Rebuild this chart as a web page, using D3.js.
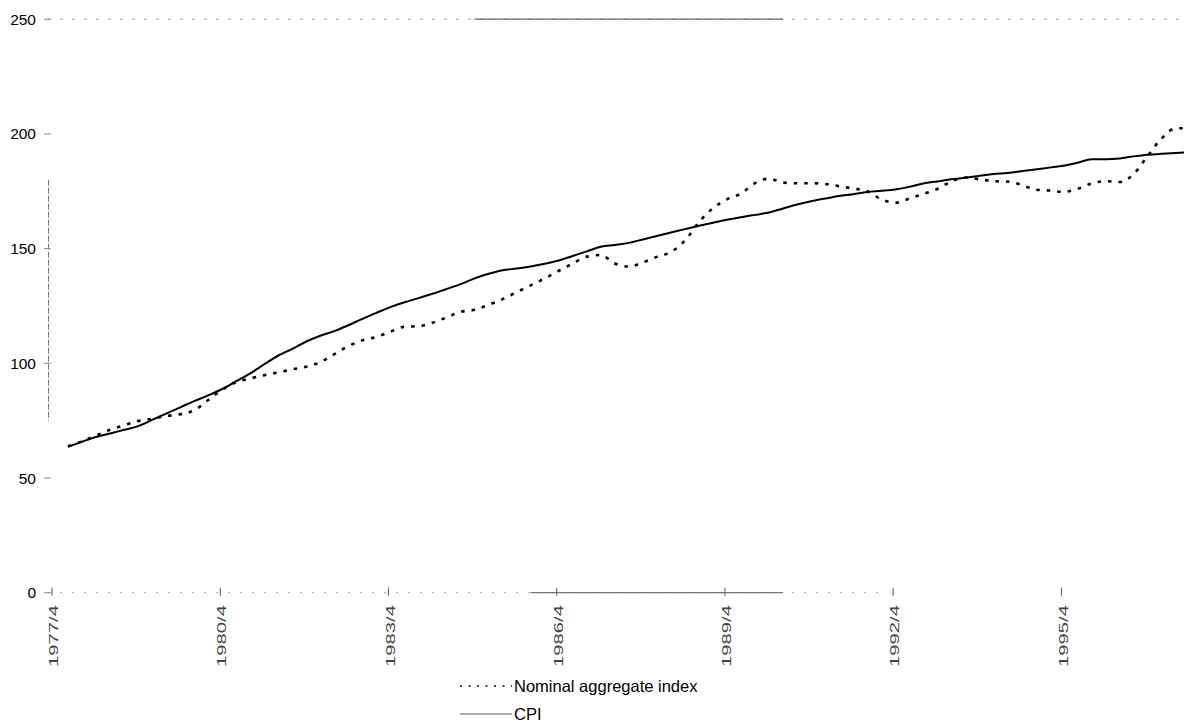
<!DOCTYPE html>
<html>
<head>
<meta charset="utf-8">
<script src="https://cdn.jsdelivr.net/npm/d3@7"></script>
<style>
  html, body { margin: 0; padding: 0; background: #fff; }
  svg { display: block; font-family: "Liberation Sans", Arial, sans-serif; }
</style>
</head>
<body>
<svg id="chart" width="1184" height="722"></svg>
<script>
// ---- data ----
// quarters from 1977/4 to 1998/1
const quarters = [];
for (let y = 1977, q = 4; y < 1998 || (y === 1998 && q <= 1); ) {
  quarters.push(y + "/" + q);
  q++; if (q > 4) { q = 1; y++; }
}
const tickLabels = ["1977/4", "1980/4", "1983/4", "1986/4", "1989/4", "1992/4", "1995/4"];
const yTicks = [0, 50, 100, 150, 200, 250];

const cpi = [null,
  63.6, 65.8, 67.9, 69.4, 71.0, 72.6, 75.3, 78.1, 80.8, 83.5, 86.0, 88.8,
  92.2, 95.6, 99.6, 103.4, 106.3, 109.5, 112.0, 114.0, 116.6, 119.4, 122.0, 124.5,
  126.6, 128.4, 130.3, 132.4, 134.5, 137.0, 139.0, 140.6, 141.3, 142.2, 143.4, 144.8,
  146.8, 148.8, 150.8, 151.6, 152.5, 154.0, 155.5, 157.0, 158.5, 160.0, 161.3, 162.6,
  163.7, 164.7, 165.7, 167.5, 169.2, 170.6, 171.8, 172.9, 173.7, 174.7, 175.2, 175.8,
  176.9, 178.4, 179.3, 180.2, 180.9, 181.7, 182.5, 183.0, 183.7, 184.5, 185.3, 186.1,
  187.4, 189.0, 189.0, 189.3, 190.2, 190.9, 191.3, 191.7, 192.0];

const nominal = [null,
  63.8, 66.0, 68.5, 71.0, 73.0, 74.8, 75.8, 77.0, 77.8, 79.5, 84.0, 88.5,
  91.8, 93.4, 94.8, 96.0, 97.4, 98.5, 100.5, 104.0, 107.5, 110.0, 111.5, 113.8,
  115.9, 116.2, 117.7, 120.0, 122.4, 123.3, 125.5, 128.0, 131.0, 134.0, 137.0, 140.3,
  143.5, 146.5, 147.2, 143.5, 142.2, 144.0, 146.4, 148.5, 153.5, 161.5, 167.6, 171.5,
  174.0, 178.5, 180.5, 178.8, 178.5, 178.5, 178.2, 177.2, 176.2, 175.0, 171.5, 170.0,
  171.8, 173.8, 176.0, 179.2, 181.0, 180.2, 179.4, 179.2, 177.8, 175.7, 175.3, 174.7,
  176.0, 178.4, 179.4, 179.0, 182.5, 190.3, 198.0, 202.4, 202.5];

const seriesNames = ["Nominal aggregate index", "CPI"];

// ---- chart ----
const svg = d3.select("#chart");
const W = 1184;

const x = d3.scalePoint().domain(quarters).range([54, 54 + 14.02 * (quarters.length - 1)]);
const y = d3.scaleLinear().domain([0, 250]).range([592.7, 19.2]);

const g = svg.append("g");

// faint frame lines (scanned look)
g.append("line")
  .attr("x1", 48).attr("x2", W).attr("y1", y(250)).attr("y2", y(250))
  .attr("stroke", "#999").attr("stroke-width", 1).attr("stroke-dasharray", "3,9");
g.append("line")
  .attr("x1", x("1985/2")).attr("x2", x("1990/4")).attr("y1", y(250)).attr("y2", y(250))
  .attr("stroke", "#666").attr("stroke-width", 1.2);
g.append("line")
  .attr("x1", 48).attr("x2", x("1992/3")).attr("y1", y(0)).attr("y2", y(0))
  .attr("stroke", "#aaa").attr("stroke-width", 1).attr("stroke-dasharray", "2,10");
g.append("line")
  .attr("x1", x("1986/2")).attr("x2", x("1990/4")).attr("y1", y(0)).attr("y2", y(0))
  .attr("stroke", "#777").attr("stroke-width", 1.2);
// y axis fragment
g.append("line")
  .attr("x1", 48.5).attr("x2", 48.5).attr("y1", y(180)).attr("y2", y(75))
  .attr("stroke", "#777").attr("stroke-width", 1).attr("stroke-dasharray", "6,2");

// y axis ticks & labels
const yAxis = g.append("g");
yAxis.selectAll("line").data(yTicks).join("line")
  .attr("x1", 44).attr("x2", 51).attr("y1", d => y(d)).attr("y2", d => y(d))
  .attr("stroke", "#888").attr("stroke-width", 1);
yAxis.selectAll("text").data(yTicks).join("text")
  .attr("x", 36).attr("y", d => y(d))
  .attr("text-anchor", "end").attr("dominant-baseline", "central")
  .attr("font-size", 15.5).attr("fill", "#000")
  .text(d => d);

// x ticks & labels
const xAxis = g.append("g");
xAxis.selectAll("line").data(tickLabels).join("line")
  .attr("x1", d => x(d) - 2).attr("x2", d => x(d) - 2)
  .attr("y1", y(0) - 5).attr("y2", y(0) + 3)
  .attr("stroke", "#555").attr("stroke-width", 1);
xAxis.selectAll("text").data(tickLabels).join("text")
  .attr("transform", d => `translate(${x(d)},605) rotate(-90) scale(1.62,1)`)
  .attr("text-anchor", "end").attr("dominant-baseline", "central")
  .attr("font-size", 12.5).attr("fill", "#444")
  .text(d => d);

// lines
const line = (vals) => d3.line()
  .defined((d, i) => vals[i] != null)
  .x((d, i) => x(quarters[i]))
  .y((d, i) => y(vals[i]))
  .curve(d3.curveMonotoneX)(quarters);

g.append("path").attr("d", line(cpi))
  .attr("fill", "none").attr("stroke", "#000").attr("stroke-width", 2);
g.append("path").attr("d", line(nominal))
  .attr("fill", "none").attr("stroke", "#000").attr("stroke-width", 2.6)
  .attr("stroke-dasharray", "3.5,7");

// legend
const legend = g.append("g");
const legY = [686, 714];
legend.append("line").attr("x1", 460).attr("x2", 512).attr("y1", legY[0]).attr("y2", legY[0])
  .attr("stroke", "#000").attr("stroke-width", 1.6).attr("stroke-dasharray", "2,6.5");
legend.append("line").attr("x1", 460).attr("x2", 512).attr("y1", legY[1]).attr("y2", legY[1])
  .attr("stroke", "#555").attr("stroke-width", 1.2);
legend.selectAll("text").data(seriesNames).join("text")
  .attr("x", 514).attr("y", (d, i) => legY[i])
  .attr("dominant-baseline", "central")
  .attr("font-size", 16.5).attr("fill", "#000")
  .text(d => d);
</script>
</body>
</html>
